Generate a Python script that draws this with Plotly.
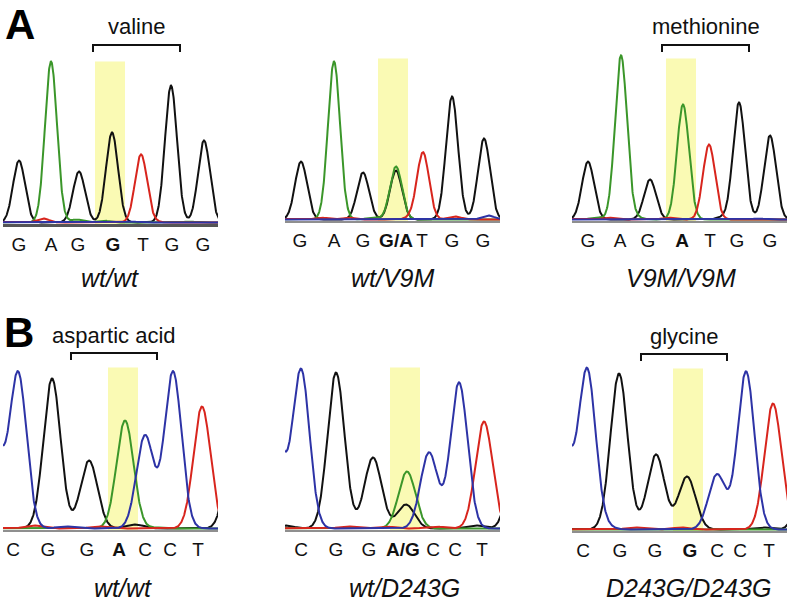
import numpy as np
import plotly.graph_objects as go

W, H = 790, 605

# ---- chromatogram peaks: position (scan units), base channel, height ----
# panel A: V9M
a1_pos = [16, 48, 76, 109, 138, 168, 201, 40, 74, 100, 128, 186, 150]
a1_base = ["G", "A", "G", "G", "T", "G", "G", "T", "A", "A", "C", "A", "T"]
a1_height = [62, 161, 51, 90, 68, 137, 82, 4, 3, 2, 1, 1, 1]

a2_pos = [16, 49, 78, 111, 111, 138, 167, 199, 36, 62, 88, 126, 170, 203]
a2_base = ["G", "A", "G", "G", "A", "T", "G", "G", "T", "T", "A", "T", "T", "C"]
a2_height = [58, 158, 47, 49, 53, 67, 123, 81, 2, 2, 2, 2, 3, 4]

a3_pos = [16, 49, 78, 111, 137, 167, 198, 24, 36, 64, 96, 150, 186]
a3_base = ["G", "A", "G", "A", "T", "G", "G", "A", "T", "A", "T", "G", "C"]
a3_height = [58, 164, 40, 115, 75, 117, 84, 2, 2, 2, 2, 2, 1]

# panel B: D243G
b1_pos = [-10, 15, 49, 86, 122, 142, 170, 199, 232, 132, 30, 62, 95, 155]
b1_base = ["C", "C", "G", "G", "A", "C", "C", "T", "G", "G", "T", "C", "T", "A"]
b1_height = [100, 156, 150, 68, 108, 93, 157, 122, 110, 4, 3, 2, 2, 1]

b2_pos = [-10, 16, 51, 88, 122, 121, 144, 174, 199, 233, 0, 62, 100, 150, 190]
b2_base = ["C", "C", "G", "G", "A", "G", "C", "C", "T", "G", "G", "T", "T", "T", "G"]
b2_height = [100, 159, 156, 71, 57, 24, 76, 146, 107, 100, 3, 2, 2, 2, 3]

b3_pos = [-10, 15, 47, 84, 115, 145, 174, 201, 236, 32, 62, 110, 190]
b3_base = ["C", "C", "G", "G", "G", "C", "C", "T", "G", "C", "T", "T", "G"]
b3_height = [100, 160, 156, 75, 53, 55, 158, 126, 90, 3, 2, 2, 2]

# ---- base calls shown under each trace ----
a1_seq = ["G", "A", "G", "<b>G</b>", "T", "G", "G"]
a1_seq_x = [16, 48, 75, 110, 140, 169, 200]
a2_seq = ["G", "A", "G", "<b>G/A</b>", "T", "G", "G"]
a2_seq_x = [15, 49, 78, 111, 137, 167, 198]
a3_seq = ["G", "A", "G", "<b>A</b>", "T", "G", "G"]
a3_seq_x = [16, 48, 76, 110, 138, 165, 198]
b1_seq = ["C", "G", "G", "<b>A</b>", "C", "C", "T"]
b1_seq_x = [10, 45, 84, 116, 142, 167, 195]
b2_seq = ["C", "G", "G", "<b>A/G</b>", "C", "C", "T"]
b2_seq_x = [16, 51, 84, 118, 148, 170, 197]
b3_seq = ["C", "G", "G", "<b>G</b>", "C", "C", "T"]
b3_seq_x = [11, 48, 83, 118, 145, 168, 197]

# centre of the highlighted (variant) base in each trace
variant_x = [107, 108, 109, 120, 120, 116]

genotypes = ["wt/wt", "wt/V9M", "V9M/V9M", "wt/wt", "wt/D243G", "D243G/D243G"]

panels = [
    (a1_pos, a1_base, a1_height, a1_seq, a1_seq_x),
    (a2_pos, a2_base, a2_height, a2_seq, a2_seq_x),
    (a3_pos, a3_base, a3_height, a3_seq, a3_seq_x),
    (b1_pos, b1_base, b1_height, b1_seq, b1_seq_x),
    (b2_pos, b2_base, b2_height, b2_seq, b2_seq_x),
    (b3_pos, b3_base, b3_height, b3_seq, b3_seq_x),
]

# ---- layout (pixels) ----
panel_left = [3, 285, 572, 3, 285, 572]
panel_baseline = [224, 221, 221, 530, 530, 531]
peak_sigma = [6.0, 6.0, 6.0, 8.5, 8.5, 8.5]
span = 215
ytop = 175

colors = {"G": "#111111", "A": "#3b962a", "T": "#d8251d", "C": "#2d33a6"}
FONT = "Liberation Sans, Arial, Helvetica, sans-serif"

xs = np.linspace(-30, 250, 1121)

fig = go.Figure()
layout = {}
shapes = []
annotations = []

for i, (pos, base, height, seq, seq_x) in enumerate(panels):
    n = "" if i == 0 else str(i + 1)
    xa, ya = "x" + n, "y" + n
    for ch in ["G", "A", "T", "C"]:
        y = np.zeros_like(xs)
        for p, b, h in zip(pos, base, height):
            if b == ch:
                y += h * np.exp(-(xs - p) ** 2 / (2 * peak_sigma[i] ** 2))
        fig.add_trace(go.Scatter(
            x=xs, y=y, mode="lines", xaxis=xa, yaxis=ya,
            line=dict(color=colors[ch], width=2), hoverinfo="skip",
            showlegend=False,
        ))

    left = panel_left[i]
    bl = panel_baseline[i]
    layout["xaxis" + n] = dict(
        domain=[left / W, (left + span) / W], range=[0, span],
        anchor=ya, showgrid=False, zeroline=False, fixedrange=True,
        showline=True,
        linecolor="#555555" if i == 0 else "#8f8f8f",
        linewidth=3 if i == 0 else 2,
        tickmode="array", tickvals=seq_x, ticktext=seq,
        ticks="outside", ticklen=1, tickcolor="rgba(0,0,0,0)",
        tickfont=dict(family=FONT, size=19, color="#111111"),
    )
    layout["yaxis" + n] = dict(
        domain=[(H - bl) / H, (H - bl + ytop) / H], range=[-1.5, ytop - 1.5],
        anchor=xa, visible=False, fixedrange=True,
    )
    shapes.append(dict(
        type="rect", xref=xa, yref=ya, layer="below",
        x0=variant_x[i] - 15, x1=variant_x[i] + 15, y0=-1.5, y1=161,
        fillcolor="#fafab4", line=dict(width=0),
    ))
    annotations.append(dict(
        x=(left + variant_x[i]) / W, y=1 - (278 if i < 3 else 588) / H,
        xref="paper", yref="paper", text="<i>%s</i>" % genotypes[i],
        showarrow=False, xanchor="center", yanchor="middle",
        font=dict(family=FONT, size=25, color="#111111"),
    ))


def px(x, y):
    return x / W, 1 - y / H


# codon brackets: (x0, x1, y) in pixels, label
brackets = [(93, 180, 45, "valine"), (662, 749, 45, "methionine"),
            (71, 157, 353, "aspartic acid"), (641, 727, 354, "glycine")]
for x0, x1, yb, label in brackets:
    a0, b0 = px(x0, yb + 7)
    a1, b1 = px(x0, yb)
    a2, b2 = px(x1, yb)
    a3, b3 = px(x1, yb + 7)
    shapes.append(dict(
        type="path", xref="paper", yref="paper",
        path="M %f,%f L %f,%f L %f,%f L %f,%f" % (a0, b0, a1, b1, a2, b2, a3, b3),
        line=dict(color="#111111", width=2),
    ))
    tx, ty = px((x0 + x1) / 2, yb - 18)
    annotations.append(dict(
        x=tx, y=ty, xref="paper", yref="paper", text=label, showarrow=False,
        xanchor="center", yanchor="middle",
        font=dict(family=FONT, size=22, color="#111111"),
    ))

for letter, (lx, ly) in [("A", (20, 25)), ("B", (19, 332))]:
    tx, ty = px(lx, ly)
    annotations.append(dict(
        x=tx, y=ty, xref="paper", yref="paper", text="<b>%s</b>" % letter,
        showarrow=False, xanchor="center", yanchor="middle",
        font=dict(family=FONT, size=42, color="#000000"),
    ))

fig.update_layout(
    width=W, height=H, margin=dict(l=0, r=0, t=0, b=0),
    paper_bgcolor="white", plot_bgcolor="rgba(0,0,0,0)",
    shapes=shapes, annotations=annotations, **layout,
)

# drop the browser's default 8px body margin so the figure fills the window
fig.write_html("out.html", config={"displayModeBar": False},
               post_script="document.body.style.margin='0';")
